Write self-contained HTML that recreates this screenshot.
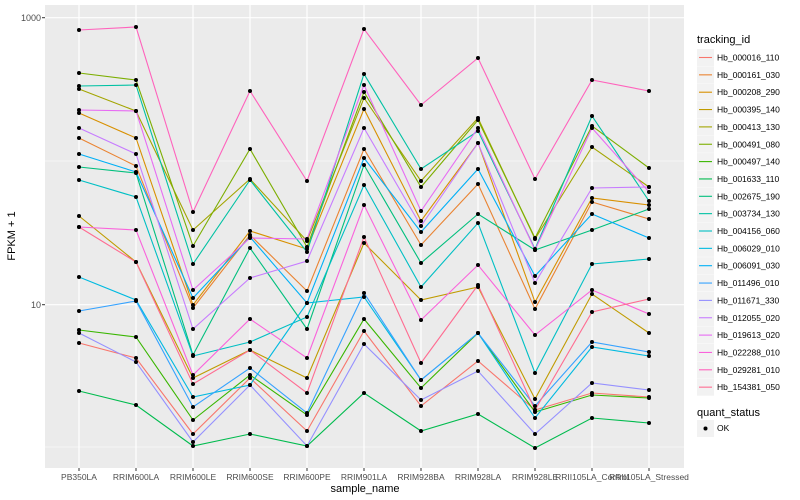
<!DOCTYPE html>
<html><head><meta charset="utf-8"><style>
body{margin:0;background:#fff;}
svg{display:block;font-family:"Liberation Sans",sans-serif;}
</style></head><body>
<svg id="s" width="800" height="500" viewBox="0 0 800 500" xmlns="http://www.w3.org/2000/svg">
<rect x="0" y="0" width="800" height="500" fill="#fff"/>
<rect x="45" y="5" width="639" height="463" fill="#EBEBEB"/>
<g stroke="#fff" stroke-width="0.6">
<line x1="45" x2="684" y1="161" y2="161"/><line x1="45" x2="684" y1="447" y2="447"/>
</g>
<g id="grid" stroke="#fff" stroke-width="1.2">
<line x1="45" x2="684" y1="17.7" y2="17.7"/><line x1="45" x2="684" y1="304.7" y2="304.7"/>
</g>
<g id="lines" fill="none" stroke-width="1.1"></g>
<g id="pts" fill="#000"></g>
<g font-size="9" fill="#4D4D4D" text-anchor="end">
<text x="41" y="21">1000</text><text x="41" y="308">10</text>
</g>
<g stroke="#333" stroke-width="1"><line x1="42" x2="45" y1="17.7" y2="17.7"/><line x1="42" x2="45" y1="304.7" y2="304.7"/></g>
<g id="xt" font-size="8.5" fill="#4D4D4D" text-anchor="middle"></g>
<text x="365" y="492" font-size="11" text-anchor="middle" fill="#000">sample_name</text>
<text transform="translate(15,236) rotate(-90)" font-size="11" text-anchor="middle" fill="#000">FPKM + 1</text>
<text x="697" y="43" font-size="11" fill="#000">tracking_id</text>
<g id="leg" font-size="8.5" fill="#000"></g>
<text x="697" y="416" font-size="11" fill="#000">quant_status</text>
<rect x="697" y="420" width="17" height="17" fill="#F2F2F2"/>
<circle cx="705.5" cy="428.5" r="2" fill="#000"/>
<text x="717" y="431" font-size="8.5" fill="#000">OK</text>
</svg>
<script>
var X=[79,136,193,250,307,364,421,478,535,592,649];
var names=["PB350LA","RRIM600LA","RRIM600LE","RRIM600SE","RRIM600PE","RRIM901LA","RRIM928BA","RRIM928LA","RRIM928LE","RRII105LA_Control","RRII105LA_Stressed"];
var cols=["#F8766D","#EA8331","#D89000","#C09B00","#A3A500","#7CAE00","#39B600","#00BB4E","#00BF7D","#00C1A3","#00BFC4","#00BAE0","#00B0F6","#35A2FF","#9590FF","#C77CFF","#E76BF3","#FA62DB","#FF62BC","#FF6C91"];
var ids=["Hb_000016_110","Hb_000161_030","Hb_000208_290","Hb_000395_140","Hb_000413_130","Hb_000491_080","Hb_000497_140","Hb_001633_110","Hb_002675_190","Hb_003734_130","Hb_004156_060","Hb_006029_010","Hb_006091_030","Hb_011496_010","Hb_011671_330","Hb_012055_020","Hb_019613_020","Hb_022288_010","Hb_029281_010","Hb_154381_050"];
var D=[
[343,358,434,378,431,331,406,361,410,393,397],
[138,166,308,235,291,149,245,184,309,202,219],
[113,138,305,231,249,109,221,143,302,198,205],
[216,262,378,350,378,243,300,287,399,294,333],
[89,111,230,179,241,98,181,118,239,147,187],
[73,80,246,149,247,92,187,120,238,126,168],
[330,337,420,375,415,319,388,333,412,395,398],
[391,405,446,434,446,393,431,414,448,418,423],
[167,173,355,248,329,165,263,214,250,230,209],
[86,85,264,180,252,74,169,131,249,116,201],
[180,197,356,342,317,185,287,223,373,264,259],
[277,300,397,385,303,297,380,333,418,347,356],
[154,172,298,237,303,158,232,169,276,214,238],
[311,301,407,368,413,293,380,333,406,342,352],
[333,362,442,385,446,344,400,371,434,383,390],
[128,154,329,278,261,128,226,143,283,188,187],
[110,111,290,238,239,85,211,128,250,128,192],
[227,230,375,319,358,205,320,265,335,290,314],
[30,27,212,91,181,29,105,58,179,80,91],
[227,262,384,350,393,237,363,285,410,312,299]];
var ns="http://www.w3.org/2000/svg";
function el(t,a,p){var e=document.createElementNS(ns,t);for(var k in a)e.setAttribute(k,a[k]);document.getElementById(p).appendChild(e);return e;}
D.forEach(function(r,i){
 el("polyline",{points:r.map(function(y,j){return X[j]+","+y}).join(" "),stroke:cols[i]},"lines");
 r.forEach(function(y,j){el("circle",{cx:X[j],cy:y,r:2},"pts");});
 var yy=49+i*17.35;
 el("rect",{x:697,y:yy,width:17,height:17,fill:"#F2F2F2"},"leg");
 el("line",{x1:699,x2:712,y1:yy+8.5,y2:yy+8.5,stroke:cols[i],"stroke-width":1.1},"leg");
 var t=el("text",{x:717,y:yy+11.5},"leg");t.textContent=ids[i];
});
names.forEach(function(n,j){
 el("line",{x1:X[j],x2:X[j],y1:5,y2:468,stroke:"#fff","stroke-width":1.2},"grid");
 el("line",{x1:X[j],x2:X[j],y1:468,y2:471,stroke:"#333"},"xt");
 var t=el("text",{x:X[j],y:480},"xt");t.textContent=n;
});
</script>
</body></html>
